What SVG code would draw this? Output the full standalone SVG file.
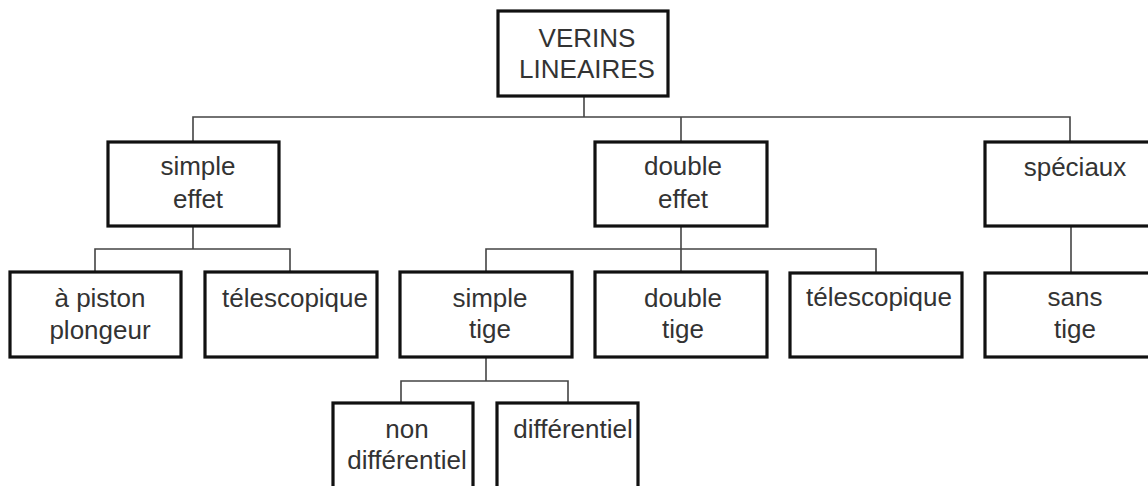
<svg xmlns="http://www.w3.org/2000/svg" width="1148" height="486" viewBox="0 0 1148 486">
<style>
.box{fill:#fff;stroke:#111;stroke-width:3.2}
.t{font-family:"Liberation Sans",Arial,sans-serif;font-size:26px;fill:#333;text-anchor:middle}
.c{fill:none;stroke:#444;stroke-width:1.6}
</style>
<rect width="1148" height="486" fill="#fff"/>
<g id="connectors">
<polyline class="c" points="584,96 584,117"/>
<polyline class="c" points="193,142 193,117 1070,117 1070,142"/>
<polyline class="c" points="681,117 681,142"/>
<polyline class="c" points="193,226 193,249"/>
<polyline class="c" points="95,272 95,249 290,249 290,272"/>
<polyline class="c" points="681,226 681,272"/>
<polyline class="c" points="486,272 486,249 876,249 876,272"/>
<polyline class="c" points="1071,226 1071,273"/>
<polyline class="c" points="486,357 486,381"/>
<polyline class="c" points="401,403 401,381 568,381 568,403"/>
</g>
<g id="verins">
<rect class="box" x="498" y="11" width="170" height="85"/>
<text class="t" x="587" y="47">VERINS</text>
<text class="t" x="587" y="78">LINEAIRES</text>
</g>
<g id="simple-effet">
<rect class="box" x="108" y="142" width="171" height="84"/>
<text class="t" x="198" y="175">simple</text>
<text class="t" x="198" y="208">effet</text>
</g>
<g id="double-effet">
<rect class="box" x="595" y="142" width="172" height="84"/>
<text class="t" x="683" y="175">double</text>
<text class="t" x="683" y="208">effet</text>
</g>
<g id="speciaux">
<rect class="box" x="985" y="142" width="180" height="84"/>
<text class="t" x="1075" y="176">spéciaux</text>
</g>
<g id="piston-plongeur">
<rect class="box" x="10" y="272" width="171" height="85"/>
<text class="t" x="100" y="307">à piston</text>
<text class="t" x="100" y="339">plongeur</text>
</g>
<g id="telescopique-1">
<rect class="box" x="205" y="272" width="172" height="85"/>
<text class="t" x="295" y="307">télescopique</text>
</g>
<g id="simple-tige">
<rect class="box" x="400" y="272" width="172" height="85"/>
<text class="t" x="490" y="307">simple</text>
<text class="t" x="490" y="338">tige</text>
</g>
<g id="double-tige">
<rect class="box" x="595" y="272" width="172" height="85"/>
<text class="t" x="683" y="307">double</text>
<text class="t" x="683" y="338">tige</text>
</g>
<g id="telescopique-2">
<rect class="box" x="790" y="273" width="172" height="84"/>
<text class="t" x="879" y="306">télescopique</text>
</g>
<g id="sans-tige">
<rect class="box" x="985" y="273" width="180" height="84"/>
<text class="t" x="1075" y="306">sans</text>
<text class="t" x="1075" y="338">tige</text>
</g>
<g id="non-differentiel">
<rect class="box" x="333" y="403" width="140" height="100"/>
<text class="t" x="407" y="438">non</text>
<text class="t" x="407" y="469">différentiel</text>
</g>
<g id="differentiel">
<rect class="box" x="497" y="403" width="141" height="100"/>
<text class="t" x="573" y="438">différentiel</text>
</g>
</svg>
